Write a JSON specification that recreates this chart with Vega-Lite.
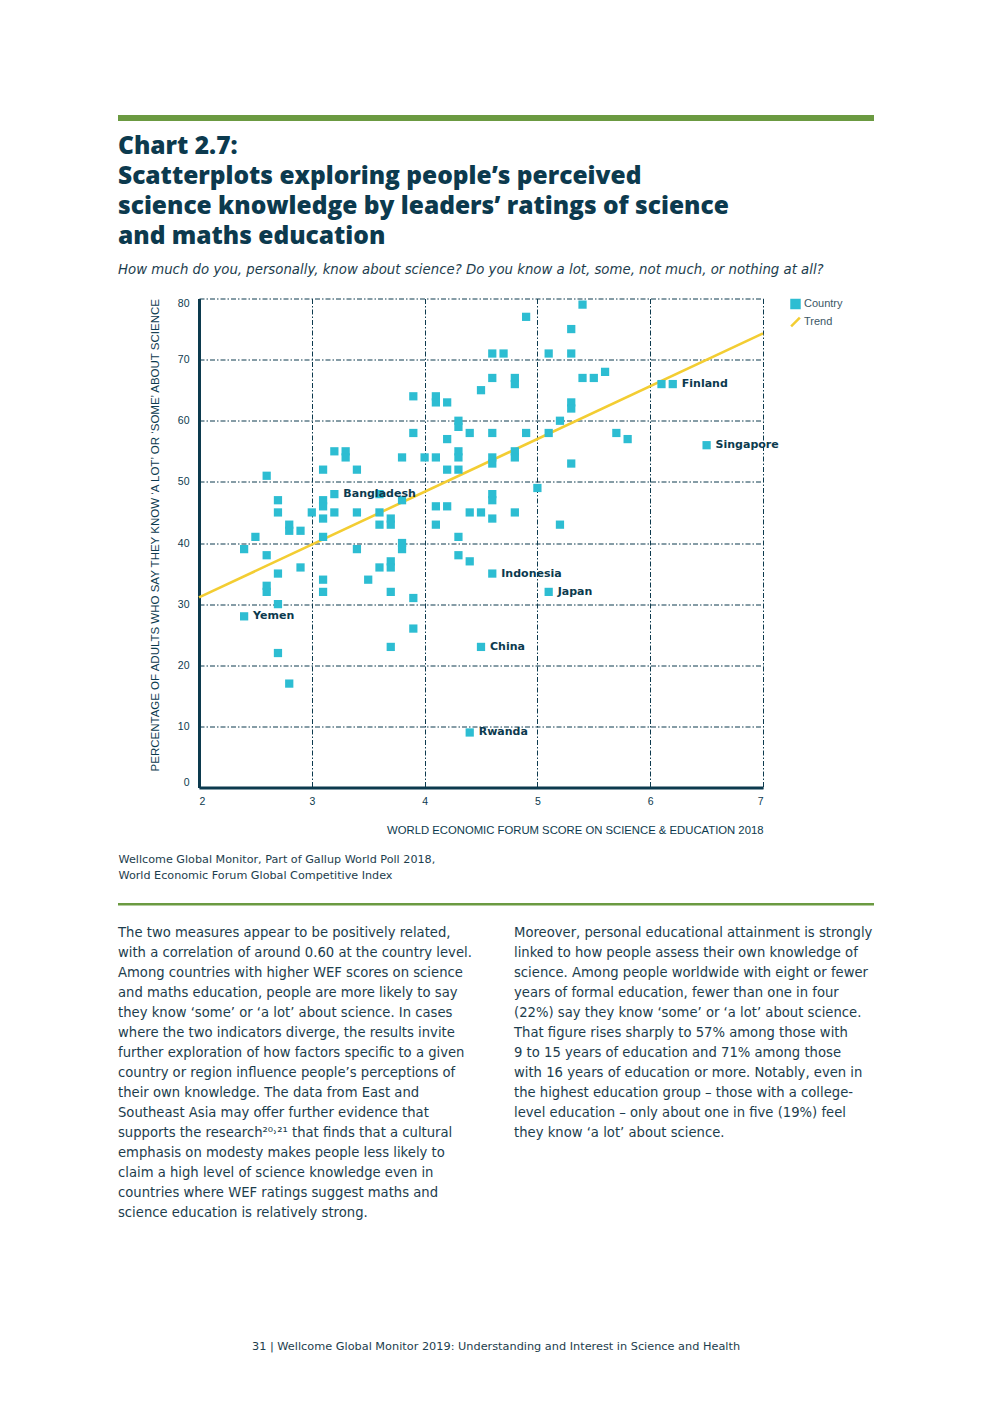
{
  "$schema": "https://vega.github.io/schema/vega-lite/v6.json",
  "background": "white",
  "padding": {"left": 118, "top": 115, "right": 118, "bottom": 51},
  "spacing": 12.5,
  "resolve": {"scale": {"color": "independent", "shape": "independent"}, "legend": {"color": "independent", "shape": "independent"}},
  "config": {"view": {"stroke": null}},
  "datasets": {
    "countries": [
      {"wef": 5.4, "pct": 79}, {"wef": 4.9, "pct": 77}, {"wef": 5.3, "pct": 75},
      {"wef": 4.6, "pct": 71}, {"wef": 4.7, "pct": 71}, {"wef": 5.1, "pct": 71}, {"wef": 5.3, "pct": 71},
      {"wef": 4.6, "pct": 67}, {"wef": 4.8, "pct": 67}, {"wef": 4.8, "pct": 66}, {"wef": 5.4, "pct": 67},
      {"wef": 5.5, "pct": 67}, {"wef": 5.6, "pct": 68}, {"wef": 4.5, "pct": 65}, {"wef": 3.9, "pct": 64},
      {"wef": 4.1, "pct": 64}, {"wef": 4.1, "pct": 63}, {"wef": 4.2, "pct": 63}, {"wef": 5.3, "pct": 63},
      {"wef": 5.3, "pct": 62}, {"wef": 6.1, "pct": 66}, {"wef": 6.2, "pct": 66, "label": "Finland"},
      {"wef": 4.3, "pct": 60}, {"wef": 4.3, "pct": 59}, {"wef": 5.2, "pct": 60}, {"wef": 3.9, "pct": 58},
      {"wef": 4.4, "pct": 58}, {"wef": 4.6, "pct": 58}, {"wef": 4.9, "pct": 58}, {"wef": 5.1, "pct": 58},
      {"wef": 5.7, "pct": 58}, {"wef": 4.2, "pct": 57}, {"wef": 5.8, "pct": 57},
      {"wef": 6.5, "pct": 56, "label": "Singapore"},
      {"wef": 3.2, "pct": 55}, {"wef": 3.3, "pct": 55}, {"wef": 3.3, "pct": 54}, {"wef": 3.8, "pct": 54},
      {"wef": 4.0, "pct": 54}, {"wef": 4.1, "pct": 54}, {"wef": 4.3, "pct": 55}, {"wef": 4.3, "pct": 54},
      {"wef": 4.6, "pct": 54}, {"wef": 4.6, "pct": 53}, {"wef": 4.8, "pct": 55}, {"wef": 4.8, "pct": 54},
      {"wef": 5.3, "pct": 53}, {"wef": 2.6, "pct": 51}, {"wef": 3.1, "pct": 52}, {"wef": 3.4, "pct": 52},
      {"wef": 4.2, "pct": 52}, {"wef": 4.3, "pct": 52}, {"wef": 5.0, "pct": 49},
      {"wef": 3.2, "pct": 48, "label": "Bangladesh"},
      {"wef": 3.6, "pct": 48}, {"wef": 3.8, "pct": 47}, {"wef": 4.6, "pct": 48}, {"wef": 4.6, "pct": 47},
      {"wef": 2.7, "pct": 47}, {"wef": 2.7, "pct": 45}, {"wef": 3.0, "pct": 45}, {"wef": 3.1, "pct": 47},
      {"wef": 3.1, "pct": 46}, {"wef": 3.2, "pct": 45}, {"wef": 3.4, "pct": 45}, {"wef": 3.6, "pct": 45},
      {"wef": 4.1, "pct": 46}, {"wef": 4.2, "pct": 46}, {"wef": 4.4, "pct": 45}, {"wef": 4.5, "pct": 45},
      {"wef": 4.8, "pct": 45}, {"wef": 3.1, "pct": 44}, {"wef": 4.6, "pct": 44}, {"wef": 3.6, "pct": 43},
      {"wef": 3.7, "pct": 44}, {"wef": 3.7, "pct": 43}, {"wef": 4.1, "pct": 43}, {"wef": 5.2, "pct": 43},
      {"wef": 2.8, "pct": 43}, {"wef": 2.8, "pct": 42}, {"wef": 2.9, "pct": 42}, {"wef": 3.1, "pct": 41},
      {"wef": 2.5, "pct": 41}, {"wef": 4.3, "pct": 41}, {"wef": 3.8, "pct": 40}, {"wef": 3.8, "pct": 39},
      {"wef": 2.4, "pct": 39}, {"wef": 3.4, "pct": 39}, {"wef": 2.6, "pct": 38}, {"wef": 4.3, "pct": 38},
      {"wef": 4.4, "pct": 37}, {"wef": 3.7, "pct": 37}, {"wef": 3.7, "pct": 36}, {"wef": 3.6, "pct": 36},
      {"wef": 2.9, "pct": 36}, {"wef": 2.7, "pct": 35}, {"wef": 4.6, "pct": 35, "label": "Indonesia"},
      {"wef": 3.5, "pct": 34}, {"wef": 3.1, "pct": 34}, {"wef": 2.6, "pct": 33}, {"wef": 2.6, "pct": 32},
      {"wef": 3.1, "pct": 32}, {"wef": 3.7, "pct": 32}, {"wef": 3.9, "pct": 31},
      {"wef": 5.1, "pct": 32, "label": "Japan"},
      {"wef": 2.7, "pct": 30}, {"wef": 2.4, "pct": 28, "label": "Yemen"}, {"wef": 3.9, "pct": 26},
      {"wef": 3.7, "pct": 23}, {"wef": 4.5, "pct": 23, "label": "China"}, {"wef": 2.7, "pct": 22},
      {"wef": 2.8, "pct": 17}, {"wef": 4.4, "pct": 9, "label": "Rwanda"}
    ],
    "trend": [{"wef": 2, "pct": 31.1}, {"wef": 7, "pct": 74.3}],
    "source": [
      {"line": 0, "text": "Wellcome Global Monitor, Part of Gallup World Poll 2018,"},
      {"line": 1, "text": "World Economic Forum Global Competitive Index"}
    ],
    "body": [
      {"col": "L", "line": 0, "text": "The two measures appear to be positively related,"},
      {"col": "L", "line": 1, "text": "with a correlation of around 0.60 at the country level."},
      {"col": "L", "line": 2, "text": "Among countries with higher WEF scores on science"},
      {"col": "L", "line": 3, "text": "and maths education, people are more likely to say"},
      {"col": "L", "line": 4, "text": "they know ‘some’ or ‘a lot’ about science. In cases"},
      {"col": "L", "line": 5, "text": "where the two indicators diverge, the results invite"},
      {"col": "L", "line": 6, "text": "further exploration of how factors specific to a given"},
      {"col": "L", "line": 7, "text": "country or region influence people’s perceptions of"},
      {"col": "L", "line": 8, "text": "their own knowledge. The data from East and"},
      {"col": "L", "line": 9, "text": "Southeast Asia may offer further evidence that"},
      {"col": "L", "line": 10, "text": "supports the research²⁰˒²¹ that finds that a cultural"},
      {"col": "L", "line": 11, "text": "emphasis on modesty makes people less likely to"},
      {"col": "L", "line": 12, "text": "claim a high level of science knowledge even in"},
      {"col": "L", "line": 13, "text": "countries where WEF ratings suggest maths and"},
      {"col": "L", "line": 14, "text": "science education is relatively strong."},
      {"col": "R", "line": 0, "text": "Moreover, personal educational attainment is strongly"},
      {"col": "R", "line": 1, "text": "linked to how people assess their own knowledge of"},
      {"col": "R", "line": 2, "text": "science. Among people worldwide with eight or fewer"},
      {"col": "R", "line": 3, "text": "years of formal education, fewer than one in four"},
      {"col": "R", "line": 4, "text": "(22%) say they know ‘some’ or ‘a lot’ about science."},
      {"col": "R", "line": 5, "text": "That figure rises sharply to 57% among those with"},
      {"col": "R", "line": 6, "text": "9 to 15 years of education and 71% among those"},
      {"col": "R", "line": 7, "text": "with 16 years of education or more. Notably, even in"},
      {"col": "R", "line": 8, "text": "the highest education group – those with a college-"},
      {"col": "R", "line": 9, "text": "level education – only about one in five (19%) feel"},
      {"col": "R", "line": 10, "text": "they know ‘a lot’ about science."}
    ],
    "footer": [{"text": "31  |  Wellcome Global Monitor 2019: Understanding and Interest in Science and Health"}]
  },
  "vconcat": [
    {
      "width": 756, "height": 6,
      "data": {"values": [{}]},
      "mark": {"type": "rect", "color": "#6b9a41"}
    },
    {
      "bounds": "flush",
      "spacing": 80,
      "resolve": {"scale": {"color": "independent", "shape": "independent"}, "legend": {"color": "independent", "shape": "independent"}},
      "hconcat": [
        {
          "width": 1, "height": 489,
          "data": {"values": []},
          "mark": {"type": "rect", "opacity": 0}
        },
        {
          "width": 564, "height": 489,
          "title": {
            "text": ["Chart 2.7:", "Scatterplots exploring people’s perceived", "science knowledge by leaders’ ratings of science", "and maths education"],
            "subtitle": "How much do you, personally, know about science? Do you know a lot, some, not much, or nothing at all?",
            "anchor": "start", "frame": "group", "dx": -81, "offset": 21,
            "font": "Open Sans", "fontSize": 24.5, "fontWeight": 800, "lineHeight": 30, "color": "#0c3a4e",
            "subtitleFont": "DejaVu Sans", "subtitleFontStyle": "italic", "subtitleFontSize": 13.3,
            "subtitleColor": "#1c3d4d", "subtitlePadding": 14
          },
          "layer": [
            {
              "data": {"name": "trend"},
              "mark": {"type": "line", "strokeWidth": 2.6, "color": "#f3cd32"},
              "encoding": {
                "x": {
                  "field": "wef", "type": "quantitative",
                  "scale": {"domain": [2, 7], "nice": false, "zero": false},
                  "axis": {
                    "values": [2, 3, 4, 5, 6, 7], "format": "d",
                    "title": "WORLD ECONOMIC FORUM SCORE ON SCIENCE & EDUCATION 2018",
                    "titleAnchor": "end", "titleFont": "Liberation Sans", "titleFontSize": 11.3,
                    "titleFontWeight": "normal", "titleColor": "#0c3a4e", "titlePadding": 17,
                    "labelFont": "Liberation Sans", "labelFontSize": 10.5, "labelColor": "#0c3a4e",
                    "labelPadding": 9, "labelFlush": true,
                    "ticks": false, "tickSize": 0,
                    "domainColor": "#0c3a4e", "domainWidth": 3,
                    "grid": true, "gridColor": "#0c3a4e", "gridWidth": 1, "gridOpacity": 1,
                    "gridDash": [5, 2, 1.5, 2]
                  }
                },
                "y": {
                  "field": "pct", "type": "quantitative",
                  "scale": {"domain": [0, 80], "nice": false},
                  "axis": {
                    "values": [0, 10, 20, 30, 40, 50, 60, 70, 80],
                    "title": "PERCENTAGE OF ADULTS WHO SAY THEY KNOW ‘A LOT’ OR ‘SOME’ ABOUT SCIENCE",
                    "titleAnchor": "end", "titleFont": "Liberation Sans", "titleFontSize": 11.5,
                    "titleFontWeight": "normal", "titleColor": "#0c3a4e", "titlePadding": 17,
                    "labelFont": "Liberation Sans", "labelFontSize": 10.5, "labelColor": "#0c3a4e",
                    "labelPadding": 10, "labelFlush": true,
                    "ticks": false, "tickSize": 0,
                    "domainColor": "#0c3a4e", "domainWidth": 3,
                    "grid": true, "gridColor": "#0c3a4e", "gridWidth": 1, "gridOpacity": 1,
                    "gridDash": [5, 2, 1.5, 2]
                  }
                }
              }
            },
            {
              "data": {"name": "countries"},
              "mark": {"type": "point", "filled": true, "size": 68, "opacity": 1, "strokeWidth": 0},
              "encoding": {
                "x": {"field": "wef", "type": "quantitative"},
                "y": {"field": "pct", "type": "quantitative"},
                "color": {
                  "datum": "Country",
                  "scale": {"domain": ["Country", "Trend"], "range": ["#2dbdd2", "#f3cd32"]},
                  "legend": {
                    "title": null, "orient": "right", "offset": 27, "padding": 0,
                    "symbolSize": 110, "symbolStrokeWidth": 0, "labelFont": "Liberation Sans", "labelFontSize": 11,
                    "labelColor": "#3b5766", "labelOffset": 3, "rowPadding": 6
                  }
                },
                "shape": {
                  "datum": "Country",
                  "scale": {"domain": ["Country", "Trend"], "range": ["square", "M-1,0.66L0.66,-1L1,-0.66L-0.66,1Z"]},
                  "legend": {
                    "title": null, "orient": "right", "offset": 27, "padding": 0,
                    "symbolSize": 110, "symbolStrokeWidth": 0, "labelFont": "Liberation Sans", "labelFontSize": 11,
                    "labelColor": "#3b5766", "labelOffset": 3, "rowPadding": 6
                  }
                }
              }
            },
            {
              "data": {"name": "countries"},
              "transform": [{"filter": "isValid(datum.label)"}],
              "mark": {"type": "text", "align": "left", "baseline": "middle", "dx": 9, "font": "DejaVu Sans", "fontWeight": "bold", "fontSize": 11, "color": "#0c3a4e"},
              "encoding": {
                "x": {"field": "wef", "type": "quantitative"},
                "y": {"field": "pct", "type": "quantitative"},
                "text": {"field": "label"}
              }
            }
          ]
        }
      ]
    },
    {
      "bounds": "flush",
      "spacing": 0,
      "vconcat": [
        {"width": 1, "height": 12, "data": {"values": []}, "mark": {"type": "rect", "opacity": 0}},
        {
          "width": 1, "height": 16,
          "data": {"name": "source"},
          "mark": {"type": "text", "align": "left", "baseline": "middle", "font": "DejaVu Sans", "fontSize": 11.2, "color": "#1c3d4d"},
          "encoding": {
            "y": {"field": "line", "type": "ordinal", "scale": {"type": "point", "padding": 0}, "axis": null},
            "text": {"field": "text"}
          }
        },
        {"width": 1, "height": 27, "data": {"values": []}, "mark": {"type": "rect", "opacity": 0}},
        {"width": 756, "height": 2.5, "data": {"values": [{}]}, "mark": {"type": "rect", "color": "#6b9a41"}},
        {"width": 1, "height": 27, "data": {"values": []}, "mark": {"type": "rect", "opacity": 0}},
        {
          "width": 396, "height": 280,
          "data": {"name": "body"},
          "mark": {"type": "text", "align": "left", "baseline": "middle", "font": "DejaVu Sans", "fontSize": 13.2, "color": "#1c3d4d"},
          "encoding": {
            "x": {"field": "col", "type": "nominal", "scale": {"type": "point", "padding": 0}, "axis": null},
            "y": {"field": "line", "type": "ordinal", "scale": {"type": "point", "padding": 0}, "axis": null},
            "text": {"field": "text"}
          }
        },
        {"width": 1, "height": 133, "data": {"values": []}, "mark": {"type": "rect", "opacity": 0}},
        {
          "width": 756, "height": 2,
          "data": {"name": "footer"},
          "mark": {"type": "text", "align": "center", "baseline": "middle", "font": "DejaVu Sans", "fontSize": 11.3, "color": "#1c3d4d"},
          "encoding": {"text": {"field": "text"}}
        }
      ]
    }
  ]
}
